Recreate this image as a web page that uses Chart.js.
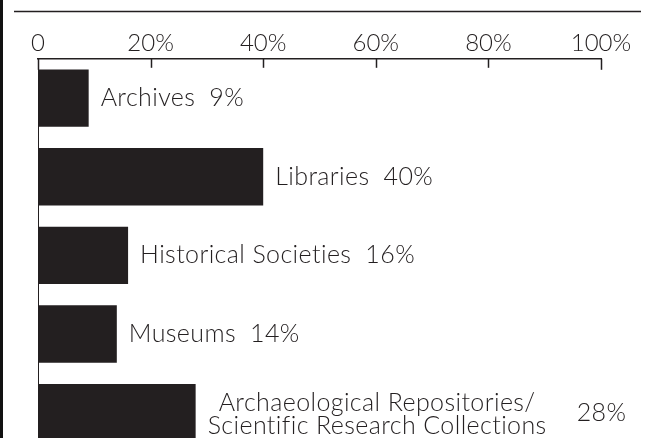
<!DOCTYPE html>
<html>
<head>
  <title>Collections by type</title>
  <script src="https://cdn.jsdelivr.net/npm/chart.js"></script>
  <style>
    html, body {
      margin: 0;
      padding: 0;
      background: #fff;
      overflow: hidden;
    }
    .wrap {
      position: relative;
      width: 661px;
      height: 452px;
    }
    /* dark strip on the left edge of the crop */
    .wrap:before {
      content: '';
      position: absolute;
      left: 0;
      top: 0;
      width: 3px;
      height: 100%;
      background: #111;
    }
  </style>
</head>
<body>
  <div class="wrap">
    <canvas id="typeChart"></canvas>
  </div>

  <script>
    // values
    const categories = [
      ['Archives'],
      ['Libraries'],
      ['Historical Societies'],
      ['Museums'],
      ['Archaeological Repositories/', 'Scientific Research Collections']
    ];
    const shares = [9, 40, 16, 14, 28];
    const tickValues = [0, 20, 40, 60, 80, 100];

    const ink = '#231f20';
    const family = 'Lato, "Open Sans", sans-serif';
    const labelFont = '300 25px ' + family;

    // rule across the top, hanging tick marks, labels beside bars
    const decorations = {
      id: 'decorations',
      afterDraw(chart) {
        const ctx = chart.ctx;
        const x = chart.scales.x;
        const area = chart.chartArea;
        ctx.save();
        ctx.strokeStyle = ink;
        ctx.lineWidth = 1.5;
        ctx.beginPath();
        ctx.moveTo(14, 11.5);
        ctx.lineTo(641, 11.5);
        ctx.stroke();

        tickValues.forEach(v => {
          const px = Math.round(x.getPixelForValue(v)) + 0.5;
          const len = (v === 0 || v === 100) ? 11 : 9;
          ctx.beginPath();
          ctx.moveTo(px, area.top);
          ctx.lineTo(px, area.top + len);
          ctx.stroke();
        });

        ctx.font = labelFont;
        ctx.letterSpacing = '0.4px';
        ctx.fillStyle = ink;
        ctx.textBaseline = 'middle';
        const meta = chart.getDatasetMeta(0);
        meta.data.forEach((bar, i) => {
          const lines = categories[i];
          const left = bar.x + 12;
          const widths = lines.map(l => ctx.measureText(l).width);
          const blockW = Math.max(...widths);
          const lineH = 23;
          const y0 = lines.length > 1 ? bar.y - 9.5 : bar.y;
          lines.forEach((l, j) => {
            ctx.fillText(l, left + (blockW - widths[j]) / 2, y0 + j * lineH);
          });
          const gap = lines.length > 1 ? 30 : 14;
          ctx.fillText(shares[i] + '%', left + blockW + gap, bar.y);
        });
        ctx.restore();
      }
    };

    const ctx = document.getElementById('typeChart').getContext('2d');
    new Chart(ctx, {
      type: 'bar',
      data: {
        labels: categories.map(c => c.join(' ')),
        datasets: [{
          data: shares,
          backgroundColor: ink,
          borderWidth: 0,
          categoryPercentage: 0.73,
          barPercentage: 1
        }]
      },
      options: {
        indexAxis: 'y',
        responsive: true,
        maintainAspectRatio: false,
        animation: false,
        layout: {
          padding: { left: 38, right: 60, top: 28, bottom: 0 }
        },
        plugins: {
          legend: { display: false },
          tooltip: { enabled: false }
        },
        scales: {
          x: {
            position: 'top',
            min: 0,
            max: 100,
            afterBuildTicks: axis => {
              axis.ticks = tickValues.map(v => ({ value: v }));
            },
            grid: { display: false, drawTicks: false },
            border: { display: true, color: ink, width: 1.5 },
            ticks: {
              color: ink,
              padding: 1,
              font: { family: family, size: 24, weight: '300' },
              callback: v => v === 0 ? '0' : v + '%'
            }
          },
          y: {
            grid: { display: false, drawTicks: false },
            border: { display: true, color: ink, width: 1 },
            ticks: { display: false }
          }
        }
      },
      plugins: [decorations]
    });
  </script>
</body>
</html>
